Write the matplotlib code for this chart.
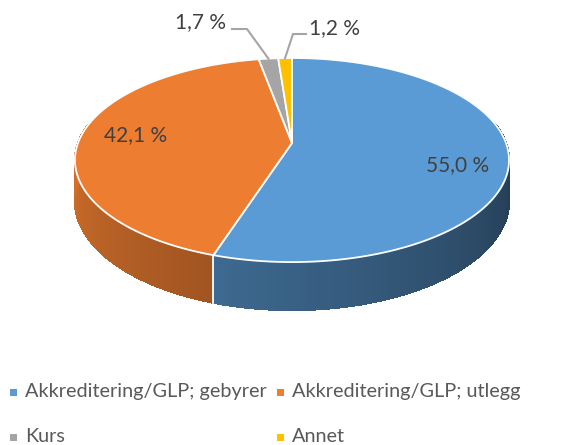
import numpy as np
import matplotlib
matplotlib.use("Agg")
import matplotlib.pyplot as plt
from matplotlib.patches import Polygon, Rectangle
from matplotlib.collections import PolyCollection

# data
labels = ["Akkreditering/GLP; gebyrer", "Akkreditering/GLP; utlegg", "Kurs", "Annet"]
values = [55.0, 42.1, 1.7, 1.2]
value_text = ["55,0 %", "42,1 %", "1,7 %", "1,2 %"]
colors = ["#5b9bd5", "#ed7d31", "#a5a5a5", "#ffc000"]

plt.rcParams['font.family'] = ['Lato', 'DejaVu Sans']

# pie geometry (pixel space, y down)
cx, cy = 292, 143
R, B, k = 214, 99.2, 0.167
H = 40


def proj(theta):
    # theta in degrees, clockwise from the far point
    t = np.radians(theta)
    u, v = np.sin(t), np.cos(t)
    s = 1 + k * v
    return cx + R * u / s, cy - B * v / s, H / s


def shade(theta):
    f = 0.36 + 0.53 * (theta - 90) / 180
    return min(max(f, 0.3), 0.95)


fig = plt.figure(figsize=(5.73, 4.45), dpi=100)
ax = fig.add_axes([0, 0, 1, 1])
ax.set_xlim(0, 573)
ax.set_ylim(445, 0)
ax.axis("off")

total = sum(values)
bounds = np.concatenate([[0], np.cumsum(values) / total * 360])

# side wall, drawn in thin strips
for i in range(len(values)):
    a0, a1 = bounds[i], bounds[i + 1]
    n = max(int((a1 - a0) / 0.5), 2)
    ts = np.linspace(a0, a1, n + 1)
    base = np.array(matplotlib.colors.to_rgb(colors[i]))
    polys, cols = [], []
    for j in range(n):
        t0, t1 = ts[j], ts[j + 1]
        if np.cos(np.radians((t0 + t1) / 2)) > 0.2:
            continue
        x0, y0, h0 = proj(t0)
        x1, y1, h1 = proj(t1)
        polys.append([(x0, y0), (x1, y1), (x1, y1 + h1), (x0, y0 + h0)])
        cols.append(base * shade((t0 + t1) / 2))
    if polys:
        pc = PolyCollection(polys, facecolors=cols, edgecolors=cols,
                            linewidths=0.8, antialiaseds=False)
        ax.add_collection(pc)
    # seam between slices on the side
    x0, y0, h0 = proj(a0)
    if np.cos(np.radians(a0)) < 0:
        ax.plot([x0, x0], [y0, y0 + h0], color="white", lw=1.3, zorder=3)

# top face
for i in range(len(values)):
    ts = np.linspace(bounds[i], bounds[i + 1], 200)
    pts = [(cx, cy)] + [proj(t)[:2] for t in ts]
    ax.add_patch(Polygon(pts, closed=True, facecolor=colors[i],
                         edgecolor="white", lw=1.3, zorder=4))

txt = "#404040"
# labels on the two big slices
ax.text(458, 165, value_text[0], fontsize=15, color=txt, ha="center", va="center", zorder=6)
ax.text(136, 135, value_text[1], fontsize=15, color=txt, ha="center", va="center", zorder=6)

# small slices with leader lines
mid2 = (bounds[2] + bounds[3]) / 2
mx, my, _ = proj(mid2)
ax.plot([232, 247, mx], [29, 29, my], color="#a5a5a5", lw=1.5, zorder=5)
ax.text(226, 22, value_text[2], fontsize=15, color=txt, ha="right", va="center")

mid3 = (bounds[3] + bounds[4]) / 2
mx, my, _ = proj(mid3)
ax.plot([306, 293, mx], [34, 34, my], color="#a5a5a5", lw=1.5, zorder=5)
ax.text(309, 28, value_text[3], fontsize=15, color=txt, ha="left", va="center")

# legend
leg = [(10, 392), (277, 392), (10, 437), (277, 437)]
for i, (lx, ly) in enumerate(leg):
    ax.add_patch(Rectangle((lx, ly - 3.5), 7, 7, facecolor=colors[i], edgecolor="none"))
    ax.text(lx + 15, ly, labels[i], fontsize=14.3, color="#595959", ha="left", va="center")

fig.savefig("out.png", dpi=100)
